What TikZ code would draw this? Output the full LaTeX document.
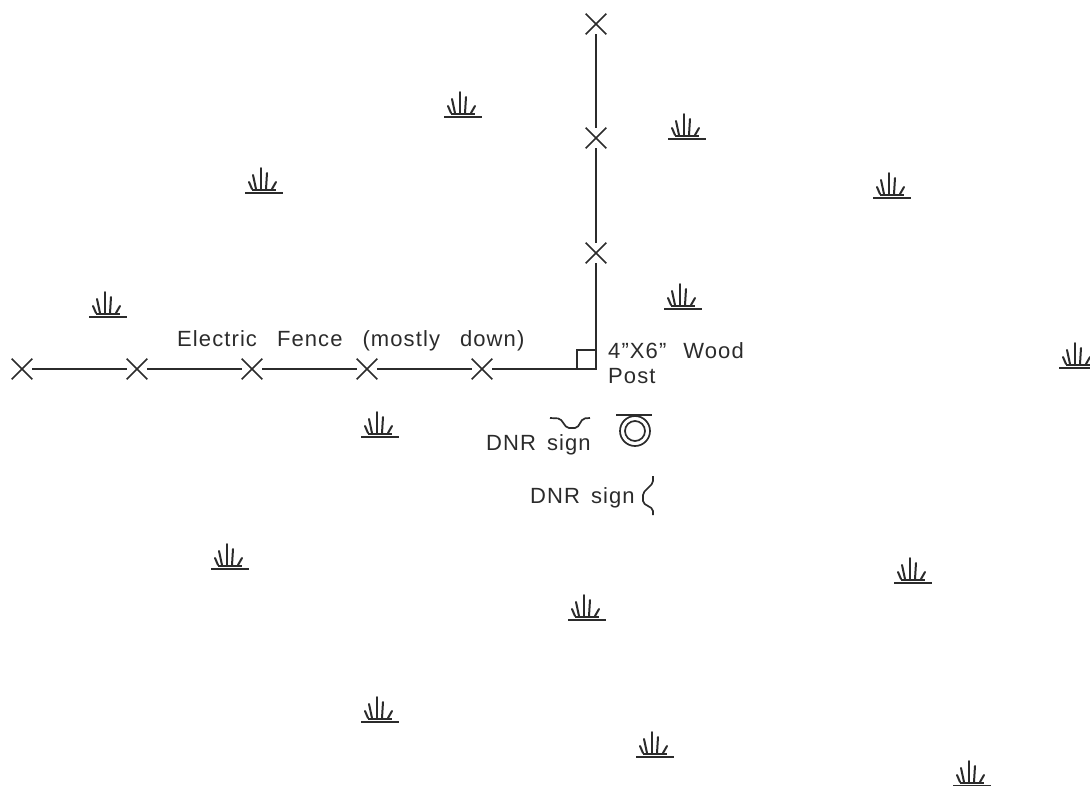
\documentclass[tikz,border=0pt]{standalone}
\usepackage{fontspec}
\setmainfont[LetterSpace=5]{Liberation Sans}
\usetikzlibrary{shapes.misc}
\definecolor{ink}{gray}{0.17}
\newcommand{\wgap}{\hspace{20pt}}
\newcommand{\sgap}{\hspace{11pt}}
\tikzset{
	post/.style={draw=ink, cross out, line width=1.7pt, inner sep=0pt, minimum size=19pt},
	fence/.style={draw=ink, line width=1.7pt},
	lbl/.style={color=ink, inner sep=0pt, anchor=base west, font=\fontsize{22}{22}\selectfont},
	marsh/.pic={
		\draw[fence, line width=2pt] (-19, 0) -- (19, 0);
		\draw[fence] (-12, -2.8) -- (12, -2.8);
		\draw[fence, line width=2pt, line cap=round] (-3, -3) -- (-3, -25);
		\draw[fence, line width=2pt, line cap=round] (-8, -4) -- (-11, -18);
		\draw[fence, line width=2pt, line cap=round] (2, -4) -- (3, -20);
		\draw[fence, line width=2pt, line cap=round] (-12, -4) -- (-15, -11);
		\draw[fence, line width=2pt, line cap=round] (8, -4) -- (12, -11);
	}
}

\begin{document}
\begin{tikzpicture}[x=1pt, y=-1pt]
	%%%%% START %%%%%
	\useasboundingbox (0, 0) rectangle (1090, 785);
	\clip (0, 0) rectangle (1090, 785);

	\node[post] (postA) at (22, 369) {};
	\node[post] (postB) at (137, 369) {};
	\node[post] (postC) at (252, 369) {};
	\node[post] (postD) at (367, 369) {};
	\node[post] (postE) at (482, 369) {};
	\coordinate (corner) at (596, 369);
	\node[post] (postF) at (596, 253) {};
	\node[post] (postG) at (596, 138) {};
	\node[post] (postH) at (596, 24) {};

	\draw[fence] (postA) -- (postB);
	\draw[fence] (postB) -- (postC);
	\draw[fence] (postC) -- (postD);
	\draw[fence] (postD) -- (postE);
	\draw[fence] (postE) -- (corner);
	\draw[fence] (corner) -- (postF);
	\draw[fence] (postF) -- (postG);
	\draw[fence] (postG) -- (postH);

	% wood post
	\draw[fence] (577, 350) rectangle (596, 369);

	\node[lbl] (fenceText) at (177, 346) {Electric\wgap Fence\wgap (mostly\wgap down)};
	\node[lbl] (woodText) at (608, 358) {4"X6"\hspace{17pt}Wood};
	\node[lbl] (postText) at (608, 383) {Post};
	\node[lbl] (signTextA) at (486, 450) {DNR\sgap sign};
	\node[lbl] (signTextB) at (530, 503) {DNR\sgap sign};

	% signs
	\draw[fence, rounded corners=2pt] (550, 418) -- (560, 418.5) -- (567, 428) -- (577, 428) -- (583, 418.5) -- (590, 418);
	\draw[fence, rounded corners=2pt] (653, 476) -- (653, 483) -- (643, 493) -- (643, 503) -- (653, 509) -- (653, 515);

	% tree
	\draw[fence] (616, 415) -- (652, 415);
	\draw[fence] (635, 431) circle (15);
	\draw[fence] (635, 431) circle (10);

	\pic at (463, 117) {marsh};
	\pic at (687, 139) {marsh};
	\pic at (264, 193) {marsh};
	\pic at (892, 198) {marsh};
	\pic at (108, 317) {marsh};
	\pic at (683, 309) {marsh};
	\pic at (1078, 368) {marsh};
	\pic at (380, 437) {marsh};
	\pic at (230, 569) {marsh};
	\pic at (913, 583) {marsh};
	\pic at (587, 620) {marsh};
	\pic at (380, 722) {marsh};
	\pic at (655, 757) {marsh};
	\pic at (972, 786) {marsh};
	%%%%% END %%%%%
\end{tikzpicture}
\end{document}
